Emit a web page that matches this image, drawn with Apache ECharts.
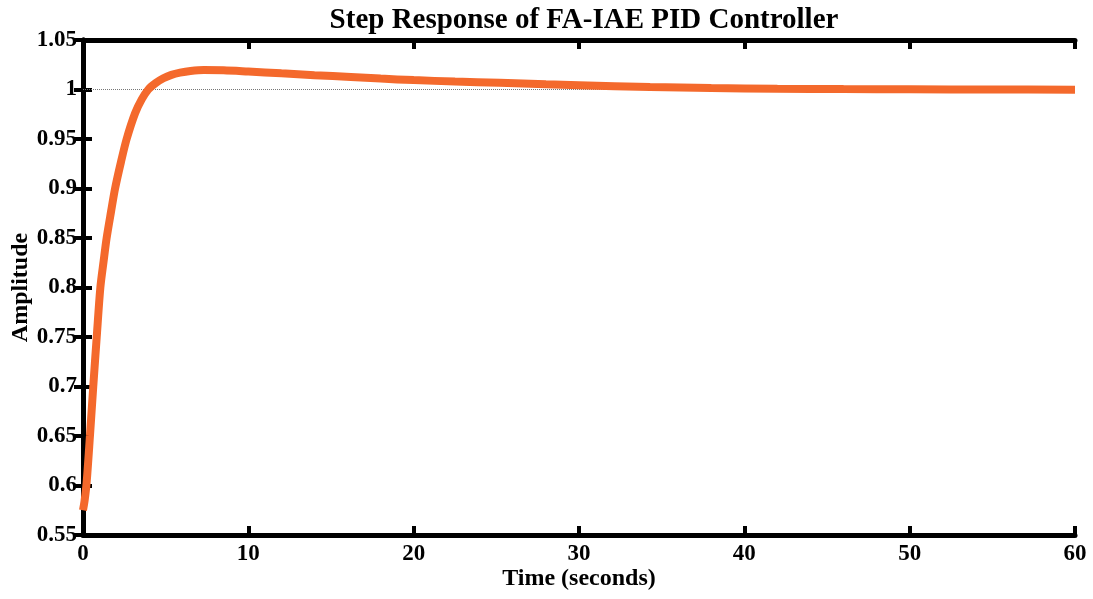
<!DOCTYPE html>
<html>
<head>
<meta charset="utf-8">
<script src="https://cdn.jsdelivr.net/npm/echarts@6/dist/echarts.min.js"></script>
<style>
  html, body { margin: 0; padding: 0; background: #fff; }
  #chart { width: 1093px; height: 599px; }
</style>
</head>
<body>
<div id="chart"></div>
<script>
// step response: time (s) and amplitude
const timeValues = [0, 0.1, 0.22, 0.42, 0.62, 0.83, 1.05, 1.25, 1.43, 1.7, 1.94, 2.3, 2.64, 3.15, 3.55, 3.95, 4.4, 4.86, 5.35, 5.87, 6.5, 7.3, 8.5, 10, 12, 14, 16.2, 18, 20, 22.5, 25.2, 28, 30, 34.3, 38, 42, 46, 50, 55, 60];
const amplitudeValues = [0.575, 0.585, 0.603, 0.65, 0.7, 0.75, 0.8, 0.827, 0.85, 0.877, 0.9, 0.927, 0.95, 0.976, 0.99, 1.0, 1.0065, 1.0113, 1.0148, 1.017, 1.0187, 1.0197, 1.0195, 1.0182, 1.0163, 1.0145, 1.0127, 1.011, 1.0095, 1.008, 1.0067, 1.0052, 1.0043, 1.0025, 1.0015, 1.0008, 1.0004, 1.0002, 1.0, 0.9998];
// steady-state reference line
const refTimes = [0, 60];
const refValues = [1, 1];

const font = "'Liberation Serif', 'Times New Roman', serif";
const chart = echarts.init(document.getElementById("chart"));

const axisStyle = {
  axisLine: { show: true, lineStyle: { color: "#000", width: 5 } },
  axisTick: { show: true, inside: true, length: 9, lineStyle: { color: "#000", width: 4 } },
  splitLine: { show: false }
};

chart.setOption({
  animation: false,
  backgroundColor: "#fff",
  title: {
    text: "Step Response of FA-IAE PID Controller",
    left: 579, textAlign: "center", top: 1,
    textStyle: { fontFamily: font, fontWeight: "bold", fontSize: 29, color: "#000" }
  },
  grid: { left: 83, right: 18, top: 40, bottom: 64, outerBoundsMode: "none", containLabel: false },
  xAxis: [
    {
      type: "value", min: 0, max: 60, interval: 10, position: "bottom",
      name: "Time (seconds)", nameLocation: "middle", nameGap: 32, nameMoveOverlap: false,
      nameTextStyle: { fontFamily: font, fontWeight: "bold", fontSize: 24, color: "#000" },
      axisLabel: { fontFamily: font, fontWeight: "bold", fontSize: 23, color: "#000", margin: 8 },
      ...axisStyle
    },
    {
      type: "value", min: 0, max: 60, interval: 10, position: "top",
      axisLabel: { show: false }, ...axisStyle
    }
  ],
  yAxis: [
    {
      type: "value", min: 0.55, max: 1.05, interval: 0.05, position: "left",
      name: "Amplitude", nameLocation: "middle", nameGap: 50, nameMoveOverlap: false,
      nameTextStyle: { fontFamily: font, fontWeight: "bold", fontSize: 24, color: "#000" },
      axisLabel: {
        fontFamily: font, fontWeight: "bold", fontSize: 23, color: "#000", margin: 6,
        formatter: v => String(parseFloat(v.toFixed(2)))
      },
      ...axisStyle
    },
    {
      type: "value", min: 0.55, max: 1.05, interval: 0.05, position: "right",
      axisLabel: { show: false }, ...axisStyle
    }
  ],
  series: [
    {
      type: "line", z: 1, silent: true, symbol: "none",
      data: refTimes.map((t, i) => [t, refValues[i]]),
      lineStyle: { color: "#777", width: 1, type: "dotted" }
    },
    {
      type: "line", z: 2, symbol: "none", smooth: 0.3,
      data: timeValues.map((t, i) => [t, amplitudeValues[i]]),
      lineStyle: { color: "#f4692c", width: 8 }
    }
  ]
});
</script>
</body>
</html>
